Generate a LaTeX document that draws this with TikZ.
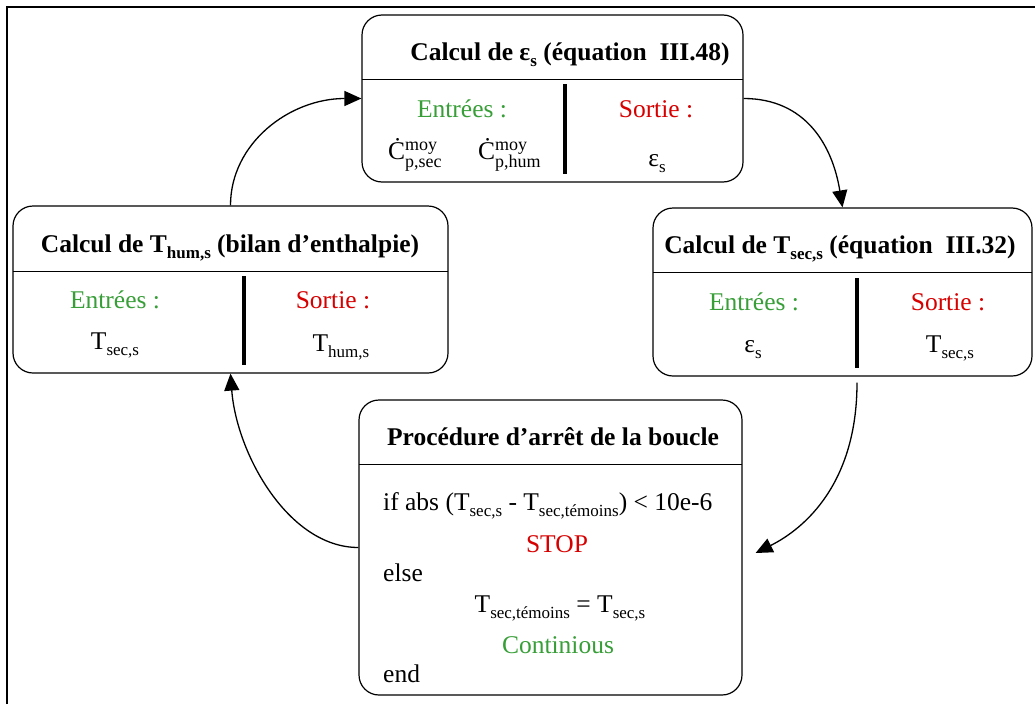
\documentclass[tikz,border=0pt]{standalone}
\usepackage{fontspec}
\setmainfont{Liberation Serif}
\usetikzlibrary{arrows.meta,calc}
\definecolor{grn}{RGB}{56,158,56}
\definecolor{rd}{RGB}{215,0,0}
\newcommand{\sbs}[1]{\raisebox{-6pt}{\fontsize{17}{17}\selectfont #1}}
\newcommand{\Cdt}[2]{Ċ\rlap{\raisebox{9pt}{\fontsize{18}{18}\selectfont #1}}\raisebox{-8pt}{\fontsize{18}{18}\selectfont #2}}
\begin{document}
\begin{tikzpicture}[x=1pt,y=-1pt,
  box/.style={draw, rounded corners=20pt, line width=1.2pt, inner sep=0pt},
  div/.style={line width=1pt},
  bar/.style={line width=4pt},
  txt/.style={font=\fontsize{25.5}{29}\selectfont, inner sep=0pt, anchor=base},
  ttl/.style={txt, font=\fontsize{25.5}{29}\selectfont\bfseries},
  arr/.style={line width=1.3pt, -{Triangle[length=17pt,width=15pt]}}]
\useasboundingbox (0,0) rectangle (1035,704);
% frame
\draw[line width=2pt] (7,704) -- (7,7) -- (1035,7);
% boxes
\node[box, minimum width=381pt, minimum height=167pt] (top) at (552.5,98.5) {};
\node[box, minimum width=435pt, minimum height=167pt] (lt) at (230.5,289.5) {};
\node[box, minimum width=379pt, minimum height=168pt] (rt) at (842.5,292) {};
\node[box, minimum width=383pt, minimum height=295pt] (proc) at (550.5,547.5) {};
% dividers and bars
\draw[div] (362,79) -- (743,79);
\draw[bar] (565,84) -- (565,174);
\draw[div] (13,271) -- (448,271);
\draw[bar] (244,276) -- (244,365);
\draw[div] (653,272) -- (1032,272);
\draw[bar] (857,278) -- (857,368);
\draw[div] (359,464) -- (742,464);
% top box text
\node[ttl] (t1) at (570,60) {Calcul de ε\sbs{s} (équation \ III.48)};
\node[txt, text=grn] (t2) at (462,117) {Entrées :};
\node[txt, text=rd] (t3) at (656,117) {Sortie :};
\node[txt, anchor=base west] (t4) at (388,159) {\Cdt{moy}{p,sec}};
\node[txt, anchor=base west] (t5) at (478,159) {\Cdt{moy}{p,hum}};
\node[txt] (t6) at (657,166) {ε\sbs{s}};
% left box text
\node[ttl] (l1) at (230,252) {Calcul de T\sbs{hum,s} (bilan d’enthalpie)};
\node[txt, text=grn] (l2) at (115,308) {Entrées :};
\node[txt, text=rd] (l3) at (333,308) {Sortie :};
\node[txt] (l4) at (115,349) {T\sbs{sec,s}};
\node[txt] (l5) at (341,351) {T\sbs{hum,s}};
% right box text
\node[ttl] (r1) at (840,253) {Calcul de T\sbs{sec,s} (équation \ III.32)};
\node[txt, text=grn] (r2) at (754,310) {Entrées :};
\node[txt, text=rd] (r3) at (948,310) {Sortie :};
\node[txt] (r4) at (753,352) {ε\sbs{s}};
\node[txt] (r5) at (950,352) {T\sbs{sec,s}};
% procedure text
\node[ttl] (p1) at (553,445) {Procédure d’arrêt de la boucle};
\node[txt, anchor=base west] (p2) at (383,510) {if abs (T\sbs{sec,s} - T\sbs{sec,témoins}) < 10e-6};
\node[txt, text=rd] (p3) at (557,552) {STOP};
\node[txt, anchor=base west] (p4) at (383,581) {else};
\node[txt] (p5) at (560,612) {T\sbs{sec,témoins} = T\sbs{sec,s}};
\node[txt, text=grn] (p6) at (558,653) {Continious};
\node[txt, anchor=base west] (p7) at (383,682) {end};
% connectors
\coordinate (a3s) at ($(rt.south)+(14.5,6)$);
\coordinate (a3e) at ($(proc.east)+(13,5.5)$);
\draw[arr] (lt.north) .. controls +(0,-62) and +(-72,0) .. (top.west);
\draw[arr] (top.east) .. controls +(62,0) and +(-10,-62) .. (rt.north);
\draw[arr] (a3s) .. controls +(0,100) and +(50,-25) .. (a3e);
\draw[arr] (proc.west) .. controls +(-70,0) and +(6,80) .. (lt.south);
\end{tikzpicture}
\end{document}
